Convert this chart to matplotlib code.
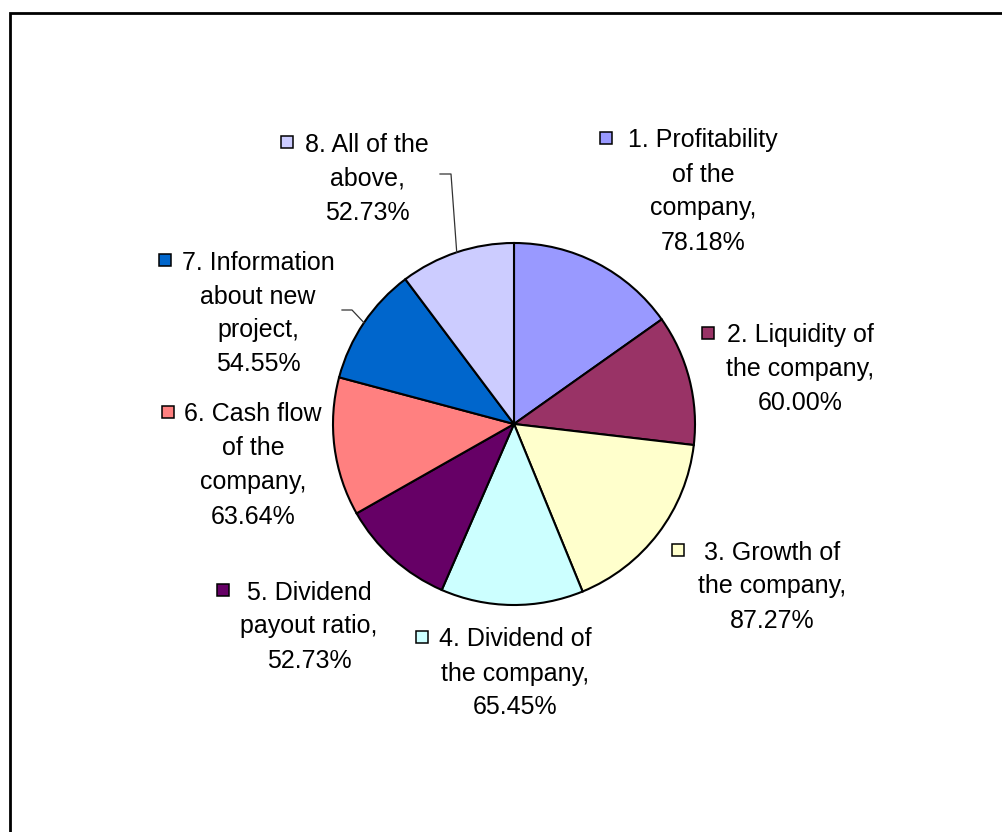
import numpy as np
import matplotlib
matplotlib.use("Agg")
import matplotlib.pyplot as plt
from matplotlib.patches import Rectangle

plt.rcParams['font.family'] = ['Liberation Sans', 'DejaVu Sans']

# data
categories = [
    "1. Profitability\nof the\ncompany",
    "2. Liquidity of\nthe company",
    "3. Growth of\nthe company",
    "4. Dividend of\nthe company",
    "5. Dividend\npayout ratio",
    "6. Cash flow\nof the\ncompany",
    "7. Information\nabout new\nproject",
    "8. All of the\nabove",
]
values = [78.18, 60.00, 87.27, 65.45, 52.73, 63.64, 54.55, 52.73]
colors = ['#9999FF', '#993366', '#FFFFCC', '#CCFFFF',
          '#660066', '#FF8080', '#0066CC', '#CCCCFF']

# layout (figure pixels, y measured from the top)
W, H = 1003, 832
cx, cy, rad = 514, 424, 181
# text block centre x, first line y, legend key position
label_pos = [
    (703, 138, 606, 138),
    (800, 333, 708, 333),
    (772, 550, 678, 550),
    (515, 637, 422, 637),
    (309, 590, 223, 590),
    (253, 412, 168, 412),
    (258, 260, 165, 260),
    (367, 142, 287, 142),
]
line_step = 34
leaders = {6: (342, 310, 352), 7: (440, 174, 451)}  # start x, y, elbow x


def fy(y):
    return H - y


fig = plt.figure(figsize=(W / 100, H / 100), dpi=100)
ax = fig.add_axes([0, 0, 1, 1])

ax.pie(values, colors=colors, startangle=90, counterclock=False,
       center=(cx, fy(cy)), radius=rad,
       wedgeprops=dict(edgecolor='black', linewidth=1.5))
ax.set_xlim(0, W)
ax.set_ylim(0, H)
ax.set_aspect('equal')
ax.axis('off')

# outer frame (only left and top edges visible)
ax.plot([10.5, 10.5, W + 5], [fy(H + 5), fy(13), fy(13)], color='black',
        lw=2, solid_joinstyle='miter')

total = sum(values)
cum = np.cumsum([0] + values)
for i, (cat, v) in enumerate(zip(categories, values)):
    tx, ty, mx, my = label_pos[i]
    lines = (cat + ",\n" + f"{v:.2f}%").split("\n")
    for j, ln in enumerate(lines):
        ax.text(tx, fy(ty + j * line_step), ln, ha='center',
                va='center_baseline', fontsize=18, color='black')
    ax.add_patch(Rectangle((mx - 6, fy(my) - 6), 12, 12, facecolor=colors[i],
                           edgecolor='black', lw=1.1, zorder=5))
    if i in leaders:
        sx, sy, ex = leaders[i]
        mid = np.deg2rad((cum[i] + cum[i + 1]) / 2 / total * 360)
        px = cx + rad * np.sin(mid)
        py = cy - rad * np.cos(mid)
        ax.plot([sx, ex, px], [fy(sy), fy(sy), fy(py)], color='#333333',
                lw=0.9)

fig.savefig("out.png", dpi=100, facecolor='white')
